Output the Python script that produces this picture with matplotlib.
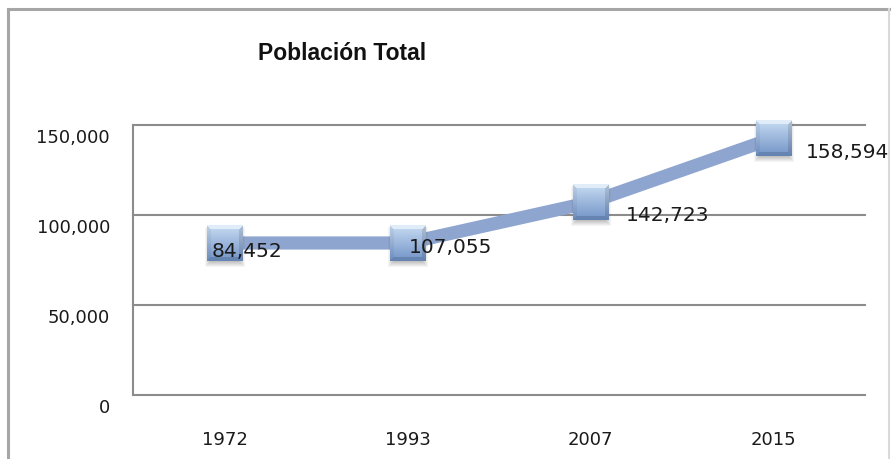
import numpy as np
import matplotlib
matplotlib.use("Agg")
import matplotlib.pyplot as plt
from matplotlib.lines import Line2D
from matplotlib.offsetbox import OffsetImage, AnnotationBbox
from matplotlib.ticker import FuncFormatter, FixedLocator
import matplotlib.transforms as mtransforms

# ---- data ----
years = ["1972", "1993", "2007", "2015"]
plotted_values = [84452, 84452, 107055, 142723]
value_labels = ["84,452", "107,055", "142,723", "158,594"]
y_ticks = [0, 50000, 100000, 150000]
title = "Población Total"

W, H = 892, 460
fig = plt.figure(figsize=(W / 100, H / 100), dpi=100)

def fx(px):
    return px / W

def fy(py):
    return 1 - py / H

# outer chart border (left, top, right)
border_col = "#a6a6a6"
fig.add_artist(Line2D([fx(8), fx(8)], [fy(10), fy(470)], color=border_col, lw=2.2, transform=fig.transFigure))
fig.add_artist(Line2D([fx(8), fx(889)], [fy(10), fy(10)], color=border_col, lw=2.2, transform=fig.transFigure))
fig.add_artist(Line2D([fx(889), fx(889)], [fy(10), fy(470)], color="#d9d9d9", lw=1.5, transform=fig.transFigure))

left, right, top, bottom = 133, 865, 126, 396
ax = fig.add_axes([fx(left), fy(bottom), fx(right - left), (bottom - top) / H])

x = np.arange(len(years))
ax.set_xlim(-0.5, len(years) - 0.5)
ax.set_ylim(0, 150000)

grid_col = "#8c8c8c"
for s in ["top", "right"]:
    ax.spines[s].set_visible(False)
for s in ["left", "bottom"]:
    ax.spines[s].set_color(grid_col)
    ax.spines[s].set_linewidth(1.5)
ax.yaxis.set_major_locator(FixedLocator(y_ticks))
for v in y_ticks[1:]:
    ax.axhline(v, color=grid_col, lw=1.5, zorder=1, clip_on=False)

ax.yaxis.set_major_formatter(FuncFormatter(lambda v, p: f"{int(v):,}"))
ax.set_xticks(x)
ax.set_xticklabels(years)
ax.tick_params(axis="both", length=0, labelsize=13, colors="#1a1a1a")
ax.tick_params(axis="y", pad=16.5)
ax.tick_params(axis="x", pad=25)
# shift y tick labels slightly downward as in the reference
for lab in ax.get_yticklabels():
    lab.set_transform(lab.get_transform() + mtransforms.ScaledTranslation(0, -10 / 100, fig.dpi_scale_trans))

# line
ax.plot(x, plotted_values, color="#8ea5cf", lw=9.5, solid_capstyle="butt", zorder=3)

# bevelled square marker image
n = 36
img = np.zeros((n, n, 4))
top_c = np.array([0.78, 0.86, 0.95])
bot_c = np.array([0.45, 0.58, 0.78])
for i in range(n):
    t = i / (n - 1)
    img[i, :, :3] = top_c * (1 - t) + bot_c * t
img[:, :, 3] = 1
b = 4
for i in range(n):
    for j in range(n):
        d = min(i, j, n - 1 - i, n - 1 - j)
        if d < b:
            if i <= j and i <= n - 1 - j:   # top bevel
                img[i, j, :3] = np.array([0.88, 0.93, 0.98])
            elif i >= j and i >= n - 1 - j:  # bottom bevel
                img[i, j, :3] = np.array([0.40, 0.52, 0.70])
            elif j < i:  # left bevel
                img[i, j, :3] = img[i, j, :3] * 0.95
            else:
                img[i, j, :3] = img[i, j, :3] * 0.88
shadow = np.zeros((n + 6, n + 6, 4))
shadow[:, :, :3] = 0.3
yy, xx = np.mgrid[0:n + 6, 0:n + 6]
dd = np.minimum.reduce([yy, xx, n + 5 - yy, n + 5 - xx]).astype(float)
shadow[:, :, 3] = np.clip(dd / 6, 0, 1) * 0.35

zoom = 72 / 100
for xi, v in zip(x, plotted_values):
    sb = AnnotationBbox(OffsetImage(shadow, zoom=zoom), (xi, v), xycoords="data",
                        xybox=(0, -4), boxcoords="offset pixels", frameon=False, zorder=4)
    ax.add_artist(sb)
    ab = AnnotationBbox(OffsetImage(img, zoom=zoom), (xi, v), xycoords="data",
                        frameon=False, zorder=5)
    ax.add_artist(ab)

# data labels (offsets in pixels: right, down)
label_offsets = [(-13, -8), (1, -4), (35, -12), (32, -13)]
for xi, v, lab, (dx, dy) in zip(x, plotted_values, value_labels, label_offsets):
    ax.annotate(lab, (xi, v), xytext=(dx, dy), textcoords="offset pixels",
                ha="left", va="center", fontsize=14.5, color="#1a1a1a", zorder=6,
                annotation_clip=False)

fig.text(fx(342), fy(53), title, ha="center", va="center", fontsize=16.5,
         fontweight="bold", family=["Liberation Sans Narrow", "Liberation Sans", "DejaVu Sans"],
         color="#111111")

fig.savefig("out.png", dpi=100)
